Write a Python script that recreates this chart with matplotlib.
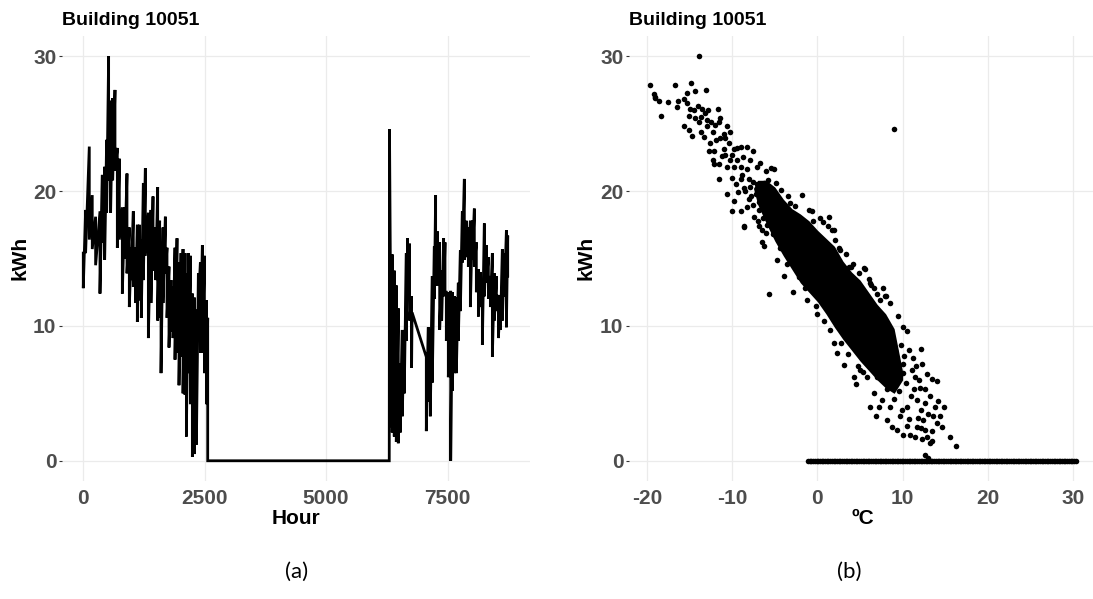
import numpy as np
from matplotlib import pyplot


# hourly load, read as column top / bottom per ~40 h slice
hours_winter = [0, 48, 124, 185, 254, 344, 392, 440, 481, 522, 563, 605, 653, 701, 742, 804, 852, 900,
                948, 989, 1030, 1078, 1113, 1154, 1195, 1237, 1278, 1340, 1394, 1436, 1491, 1532, 1573,
                1601, 1642, 1690, 1724, 1765, 1807, 1848, 1889, 1930, 1971, 2013, 2054, 2095, 2123, 2164,
                2205, 2246, 2288, 2329, 2370, 2411, 2452, 2494, 2535, 2562]
top_winter = [15.4, 18.6, 23.3, 19.7, 18.1, 18.5, 21.2, 21.8, 23.8, 30.0, 26.7, 26.9, 27.5, 23.2, 22.4, 18.8,
              18.8, 21.3, 17.3, 15.8, 18.5, 15.8, 17.5, 17.5, 16.4, 20.6, 21.7, 18.4, 18.6, 19.6, 17.3, 20.3,
              17.8, 16.1, 17.3, 18.1, 15.8, 14.4, 13.4, 12.9, 15.8, 16.5, 14.7, 15.4, 15.7, 15.4, 13.9, 15.4,
              15.2, 12.4, 12.1, 11.2, 13.9, 14.7, 16.0, 15.2, 11.9, 10.6]
low_winter = [12.8, 15.4, 16.4, 15.7, 14.5, 12.4, 16.2, 14.9, 18.4, 20.8, 18.4, 20.8, 21.5, 15.8, 16.4, 12.4,
              15.0, 13.9, 11.4, 13.4, 12.9, 11.7, 10.3, 11.9, 10.6, 13.4, 15.2, 9.1, 11.7, 14.1, 13.4, 10.4,
              10.6, 6.5, 11.7, 13.9, 10.6, 8.4, 9.6, 9.1, 7.5, 8.0, 5.6, 7.7, 5.0, 4.9, 1.8, 6.5,
              4.2, 0.3, 0.5, 1.2, 11.6, 8.0, 8.0, 6.5, 4.2, 0.0]

# meter off, then the restart spike
hours_gap = [2570, 6300, 6305]
kwh_gap = [0.0, 0.0, 24.6]

hours_autumn = [6328, 6362, 6403, 6445, 6486, 6527, 6568, 6609, 6651, 6678, 6719, 6760]
top_autumn = [11.7, 15.3, 14.1, 13.0, 11.3, 7.2, 9.7, 9.7, 15.4, 16.5, 16.1, 12.2]
low_autumn = [2.5, 2.1, 1.8, 1.4, 1.3, 2.1, 3.3, 5.0, 8.9, 12.0, 10.4, 6.9]

# missing stretch bridged by a straight line
hours_bridge = [6770]
kwh_bridge = [11.0]

hours_late = [7063, 7104, 7145, 7186, 7228, 7255, 7296, 7338, 7379, 7420, 7448, 7475, 7516, 7565, 7599,
              7640, 7681, 7722, 7764, 7805, 7846, 7887, 7928, 7970, 8011, 8052, 8093, 8135, 8176, 8217,
              8258, 8299, 8341, 8382, 8423, 8464, 8506, 8547, 8588, 8629, 8670, 8712, 8739]
top_late = [7.7, 9.9, 9.7, 13.7, 15.9, 19.7, 17.0, 16.2, 14.1, 16.5, 16.2, 12.5, 12.5, 12.6, 12.5,
            12.2, 12.1, 13.2, 15.6, 18.5, 20.9, 17.8, 17.3, 17.8, 17.8, 18.7, 16.2, 14.2, 14.0, 13.2,
            17.6, 16.0, 15.1, 13.7, 15.4, 13.9, 13.7, 12.3, 11.9, 15.7, 15.4, 17.1, 16.7]
low_late = [2.2, 4.4, 3.3, 5.8, 12.0, 13.0, 13.0, 9.7, 10.4, 12.2, 12.5, 8.9, 6.2, 0.0, 5.2,
            6.5, 6.5, 8.9, 11.1, 14.7, 14.9, 15.1, 14.4, 11.4, 14.9, 14.4, 12.5, 10.7, 11.4, 8.6,
            12.2, 13.2, 12.0, 11.4, 7.7, 10.4, 11.1, 9.1, 9.7, 10.4, 12.2, 9.9, 13.7]

# load vs outdoor temperature: sparse winter end
temp_cold = [-19.6, -19.2, -19.1, -19.0, -18.6, -18.3, -17.5, -16.7, -16.5, -16.4, -15.7, -15.3, -14.8,
             -14.4, -13.1, -13.9, -15.3, -14.9, -14.5, -15.1, -14.3, -13.7, -13.9, -13.5, -12.8, -13.2,
             -11.7, -15.7, -15.1, -14.7, -13.7, -13.3, -12.9, -12.5, -11.4, -11.5, -12.3, -11.9, -11.4,
             -10.6, -10.2, -12.7, -12.1, -12.3, -12.1, -11.5, -11.0, -10.4, -10.8, -9.8, -9.4, -9.0,
             -8.3, -7.5, -10.2, -9.4, -8.7, -7.9, -10.6, -9.8, -9.0, -8.2, -7.1, -6.7, -11.5, -10.6,
             -10.0, -9.6, -9.0, -8.6, -7.9, -7.1, -9.8, -10.0, -9.0, -8.2, -7.5, -8.6, -7.4, -6.8,
             -6.5, -6.0, -5.7, -5.4, -14.0, -13.0, -12.0, -11.0, -10.8, -12.6, -11.2, -10.0, -8.8,
             -8.0, -9.3, -7.8, -6.8, -6.3, -6.0]
kwh_cold = [27.9, 27.2, 27.0, 26.9, 26.7, 25.6, 26.6, 27.9, 26.2, 26.7, 26.8, 27.3, 28.0,
            27.4, 27.5, 30.0, 26.5, 26.1, 26.0, 25.6, 25.4, 25.5, 25.1, 26.1, 26.0, 25.8,
            26.1, 24.8, 24.5, 24.1, 24.4, 24.0, 24.8, 25.1, 25.4, 25.1, 24.4, 23.8, 23.9,
            24.8, 24.4, 23.0, 23.0, 22.3, 22.0, 22.0, 23.1, 23.6, 22.7, 23.1, 23.2, 23.3,
            23.3, 23.0, 22.3, 22.3, 22.5, 22.3, 21.8, 21.8, 21.8, 21.6, 21.8, 22.1, 20.9, 19.8,
            21.0, 20.5, 20.9, 20.2, 20.3, 20.5, 19.3, 18.5, 18.5, 18.8, 19.0, 17.4, 18.1, 17.4,
            16.2, 16.9, 12.4, 21.7, 26.3, 25.3, 24.9, 24.2, 23.9, 23.6, 22.6, 22.7, 21.2,
            20.9, 19.9, 19.6, 19.2, 20.6, 21.5]

# ragged edges of the main band
temp_edge = [-5.1, -4.3, -3.2, -1.8, -0.6, 0.6, 1.4, 1.9, -0.5, 1.7, 2.5, 2.7, 3.7, 3.9, 5.5, 5.6,
             6.2, 6.3, 7.0, 7.9, 8.0, 8.5, 9.5, 10.1, 10.5, 12.1, 12.3, 13.4, 14.0, 14.8, 15.6, 16.3,
             9.0,
             -8.6, -6.5, -6.3, -4.7, -3.9, -2.9, -1.2, 0.0, 1.5, 1.9, 2.3, 3.1, 4.5, 6.2, 7.2, 6.9,
             8.2, 8.7, 9.3, 10.0, 10.9, 11.5, 12.6, 13.0,
             -8.5, -8.0, -7.6, -7.2, -6.9, -6.4, -6.1, -5.8, -5.5, -7.0, -5.9, -5.2, -4.8, -4.4,
             -3.6, -3.4, -2.6, -2.2, -1.5, -1.0, -0.2, 0.3, 0.8, 1.2, 2.1, 2.8, 3.3, 3.6, 4.2,
             4.8, 4.9, 5.4, 6.0, 6.6, 7.3, 7.7]
kwh_edge = [21.6, 20.1, 19.1, 19.7, 18.5, 17.7, 18.1, 17.1, 17.8, 17.1, 15.8, 15.6, 14.4, 14.4, 14.3, 14.2,
            13.2, 13.0, 12.4, 12.2, 12.2, 11.7, 10.7, 9.9, 9.6, 8.3, 7.2, 6.1, 5.9, 4.0, 1.8, 1.1,
            24.6,
            17.3, 17.1, 15.9, 14.9, 13.7, 12.5, 11.9, 10.9, 9.7, 8.7, 8.0, 7.1, 5.7, 4.0, 4.0, 3.3,
            3.0, 2.5, 2.3, 1.9, 1.9, 1.8, 0.4, 0.2,
            20.0, 19.4, 20.7, 19.8, 18.6, 18.0, 19.5, 20.8, 18.7, 17.8, 17.5, 16.8, 20.6, 15.8,
            14.6, 19.6, 18.9, 13.6, 12.8, 18.6, 11.5, 18.0, 10.4, 17.4, 16.4, 8.7, 15.3, 7.9, 14.6,
            7.0, 13.9, 6.6, 13.5, 12.8, 11.9, 12.8]

# tail towards the warm end
temp_tail = [10.5, 11.3, 11.7, 12.1, 12.4, 12.6, 12.8, 13.2, 13.5, 14.0, 14.4, 14.6, 13.8, 13.0,
             13.2, 12.6, 11.9, 11.1, 10.1, 9.1, 9.5, 8.9, 8.2, 7.6, 6.6, 8.5, 9.7, 10.5, 11.7,
             12.3, 7.0, 5.8, 5.0, 4.3, 7.8,
             9.8, 10.2, 10.8, 11.2, 11.6, 10.4, 11.0, 9.6, 9.0, 8.6, 10.0, 11.4, 12.0, 12.6,
             12.2, 13.4, 13.6, 14.2, 12.9, 11.8, 10.7, 9.9]
kwh_tail = [4.0, 5.3, 4.5, 3.8, 3.0, 2.3, 1.8, 1.3, 1.5, 2.8, 3.3, 2.5, 4.0, 3.5,
            4.8, 5.3, 6.0, 6.7, 7.2, 8.2, 6.7, 6.0, 5.3, 4.5, 5.0, 4.0, 3.3, 2.6, 2.5,
            1.6, 6.2, 6.2, 6.7, 6.2, 6.0,
            8.6, 7.8, 8.2, 7.6, 7.0, 5.8, 4.8, 5.2, 4.6, 5.6, 6.5, 6.2, 5.4, 4.3,
            2.4, 2.2, 3.3, 4.4, 6.4, 3.2, 3.1, 3.8]

# solid part of the cloud: lower / upper kWh per degree
temp_core = [-7.5, -7, -6, -5, -4, -3, -2, -1, 0, 1, 2, 3, 4, 5, 6, 7, 8, 9, 10]
core_high = [20.2, 20.8, 20.8, 20.3, 19.4, 18.7, 18.3, 17.8, 17.1, 16.5, 15.9, 14.8, 14.0, 13.4, 12.5,
             11.6, 10.9, 9.8, 6.6]
core_low = [20.2, 19.0, 17.6, 16.3, 15.2, 14.2, 13.2, 12.5, 11.8, 10.9, 9.9, 9.0, 8.2, 7.4, 6.7,
            6.0, 5.4, 5.0, 6.0]

# temperatures of the hours with zero load
temp_zero = [-1.1, -0.9, -0.7, -0.5, -0.3, -0.1, 0.1, 0.3, 0.5, 0.7, 0.9, 1.1, 1.3, 1.5, 1.7, 1.9,
             2.1, 2.3, 2.5, 2.7, 2.9, 3.1, 3.3, 3.5, 3.7, 3.9, 4.1, 4.3, 4.5, 4.7, 4.9, 5.1, 5.3,
             5.5, 5.7, 5.9, 6.1, 6.3, 6.5, 6.7, 6.9, 7.1, 7.3, 7.5, 7.7, 7.9, 8.1, 8.3, 8.5, 8.7,
             8.9, 9.1, 9.3, 9.5, 9.7, 9.9, 10.1, 10.3, 10.5, 10.7, 10.9, 11.1, 11.3, 11.5, 11.7,
             11.9, 12.1, 12.3, 12.5, 12.7, 12.9, 13.1, 13.3, 13.5, 13.7, 13.9, 14.1, 14.3, 14.5,
             14.7, 14.9, 15.1, 15.3, 15.5, 15.7, 15.9, 16.1, 16.3, 16.5, 16.7, 16.9, 17.1, 17.3,
             17.5, 17.7, 17.9, 18.1, 18.3, 18.5, 18.7, 18.9, 19.1, 19.3, 19.5, 19.7, 19.9, 20.1,
             20.3, 20.5, 20.7, 20.9, 21.1, 21.3, 21.5, 21.7, 21.9, 22.1, 22.3, 22.5, 22.7, 22.9,
             23.1, 23.3, 23.5, 23.7, 23.9, 24.1, 24.3, 24.5, 24.7, 24.9, 25.1, 25.3, 25.5, 25.7,
             25.9, 26.1, 26.3, 26.5, 26.7, 26.9, 27.1, 27.3, 27.5, 27.7, 27.9, 28.1, 28.3, 28.5,
             28.7, 28.9, 29.1, 29.3, 29.5, 29.7, 29.9, 30.1, 30.3]


def zigzag(hours, top, low):
	# each slice drawn top -> bottom, then on to the next slice
	x = np.repeat(hours, 2)
	y = np.column_stack([top, low]).ravel()
	return list(x), list(y)


xa, ya = zigzag(hours_winter, top_winter, low_winter)
xb, yb = zigzag(hours_autumn, top_autumn, low_autumn)
xc, yc = zigzag(hours_late, top_late, low_late)
hours = xa + hours_gap + xb + hours_bridge + xc
kwh = ya + kwh_gap + yb + kwh_bridge + yc


pyplot.rcParams['font.family'] = ['Liberation Sans', 'DejaVu Sans']
pyplot.rcParams['axes.unicode_minus'] = False

W, H = 1093, 599
figure = pyplot.figure(figsize=(W / 100, H / 100), dpi=100)
axis1 = figure.add_axes([62 / W, 1 - 481 / H, 468 / W, 445 / H])
axis2 = figure.add_axes([629 / W, 1 - 481 / H, 468 / W, 445 / H])

axis1.set_xlim(-438, 9198)
axis1.set_xticks([0, 2500, 5000, 7500])
axis2.set_xlim(-22.1, 32.8)
axis2.set_xticks([-20, -10, 0, 10, 20, 30])

for axis in (axis1, axis2):
	for s in axis.spines.values():
		s.set_visible(False)
	axis.grid(True, color='#ebebeb', linewidth=0.9)
	axis.set_axisbelow(True)
	axis.set_ylim(-1.5, 31.5)
	axis.set_yticks([0, 10, 20, 30])
	axis.tick_params(axis='y', length=2.5, width=0.8, color='#333333', pad=1.5)
	axis.tick_params(axis='x', length=0, pad=6)
	for lab in axis.get_xticklabels() + axis.get_yticklabels():
		lab.set_fontsize(15)
		lab.set_fontweight('bold')
		lab.set_color('#4d4d4d')
	axis.set_title('Building 10051', loc='left', fontsize=14, fontweight='bold', pad=8)

axis1.plot(hours, kwh, color='black', linewidth=2.0, solid_joinstyle='miter')

axis2.fill_between(temp_core, core_low, core_high, color='black', linewidth=0)
axis2.scatter(temp_cold, kwh_cold, s=16, color='black', linewidths=0)
axis2.scatter(temp_edge, kwh_edge, s=16, color='black', linewidths=0)
axis2.scatter(temp_tail, kwh_tail, s=16, color='black', linewidths=0)
axis2.scatter(temp_zero, [0] * len(temp_zero), s=16, color='black', linewidths=0)

lab_style = dict(fontsize=15, fontweight='bold', color='black', ha='center', va='center')
figure.text(20 / W, 1 - 258 / H, 'kWh', rotation=90, **lab_style)
figure.text(586 / W, 1 - 258 / H, 'kWh', rotation=90, **lab_style)
figure.text(296 / W, 1 - 518 / H, 'Hour', **lab_style)
figure.text(863 / W, 1 - 518 / H, 'ºC', **lab_style)

figure.text(297 / W, 1 - 572 / H, '(a)', fontsize=16, family='Lato', ha='center', va='center')
figure.text(849 / W, 1 - 572 / H, '(b)', fontsize=16, family='Lato', ha='center', va='center')

pyplot.savefig('out.png', dpi=100, facecolor='white')
